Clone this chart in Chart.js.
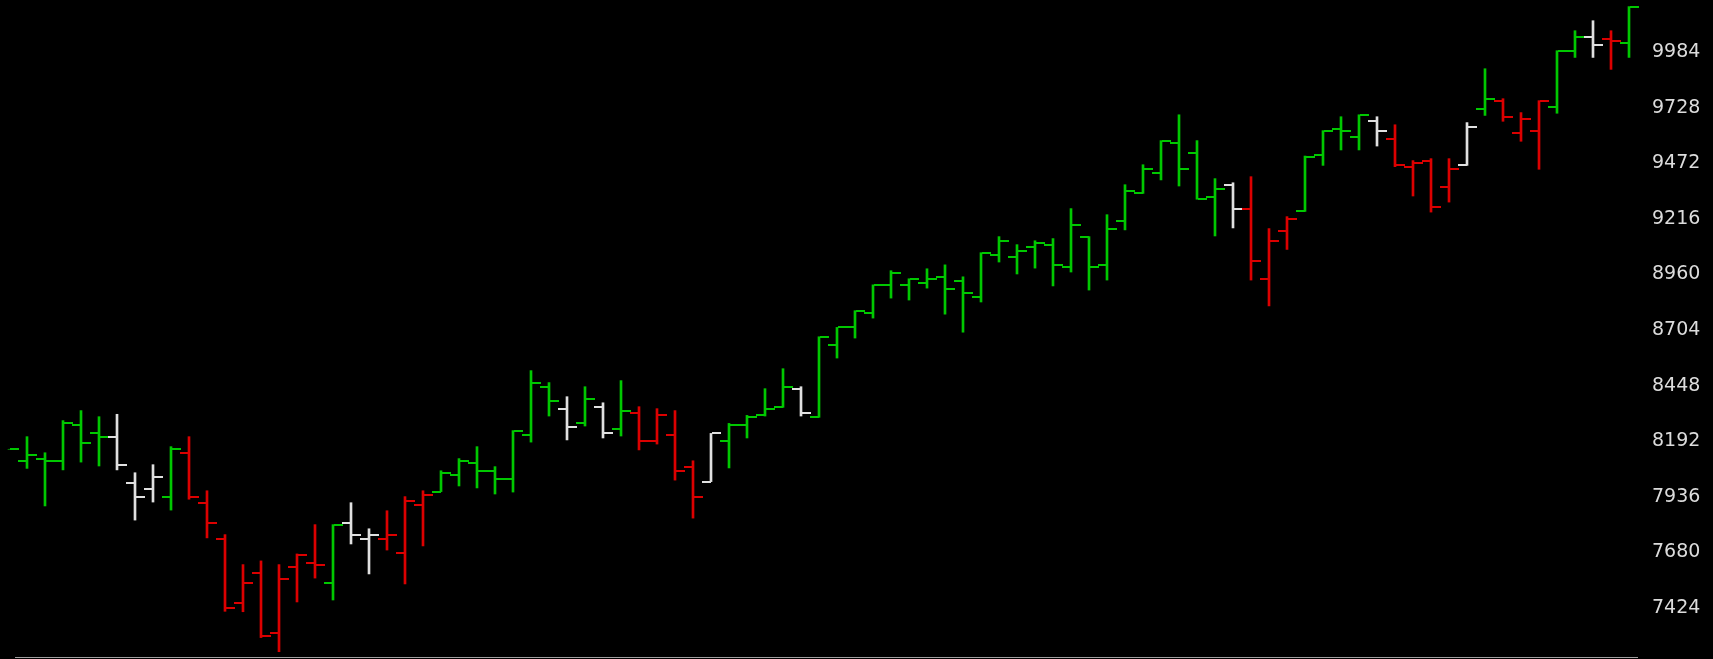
<!DOCTYPE html>
<html>
<head>
<meta charset="utf-8">
<script src="https://cdn.jsdelivr.net/npm/chart.js@4.4.1/dist/chart.umd.min.js"></script>
<style>
  html, body { margin: 0; padding: 0; background: #000; overflow: hidden; }
  canvas { display: block; }
</style>
</head>
<body>
<canvas id="myChart" width="1713" height="659"></canvas>
<script>
const ctx = document.getElementById('myChart').getContext('2d');

/*** Data (daily bars, oldest first) ***/
const opens = [null, 8101, 8109, 8101, 8267, 8230, 8210, 7998, 7972, 7934,
    8138, 7906, 7740, 7446, 7585, 7308, 7611, 7630, 7539, 7814,
    7740, 7740, 7676, 7897, 7960, 8035, 8090, 8053, 8017, 8219,
    8440, 8339, 8274, 8348, 8247, 8320, 8191, 8219, 8072, 8006,
    8191, 8265, 8311, 8348, 8431, 8302, 8633, 8716, 8781, 8912,
    8912, 8919, 8946, 8928, 8854, 9048, 9039, 9088, 9094, 8993,
    9134, 9002, 9204, 9333, 9428, 9567, 9520, 9315, 9370, 9260,
    8937, 9161, 9250, 9511, 9631, 9594, 9668, 9585, 9456, 9484,
    9361, 9462, 9723, 9760, 9613, 9619, 9732, 9990, 10055, 10045,
    10027];
const highs = [8155, 8213, 8139, 8287, 8333, 8305, 8316, 8047, 8084, 8167,
    8213, 7964, 7762, 7624, 7641, 7624, 7673, 7808, 7808, 7909,
    7789, 7872, 7937, 7964, 8056, 8112, 8167, 8075, 8241, 8517,
    8462, 8397, 8443, 8369, 8471, 8351, 8342, 8333, 8102, 8228,
    8274, 8311, 8434, 8526, 8443, 8673, 8716, 8793, 8912, 8977,
    8940, 8986, 9004, 8949, 9060, 9134, 9097, 9115, 9125, 9263,
    9134, 9235, 9373, 9465, 9576, 9695, 9576, 9401, 9382, 9410,
    9171, 9226, 9505, 9622, 9686, 9695, 9686, 9649, 9484, 9493,
    9493, 9659, 9907, 9769, 9705, 9760, 9990, 10082, 10128, 10082,
    10193];
const lows = [8155, 8067, 7894, 8060, 8096, 8078, 8060, 7829, 7912, 7875,
    7925, 7747, 7409, 7407, 7288, 7223, 7452, 7562, 7461, 7719,
    7581, 7691, 7535, 7710, 7960, 7986, 7977, 7949, 7958, 8188,
    8308, 8198, 8262, 8207, 8216, 8152, 8179, 8013, 7838, 8006,
    8069, 8207, 8308, 8348, 8308, 8302, 8575, 8667, 8759, 8851,
    8842, 8897, 8777, 8694, 8833, 9017, 8962, 8989, 8907, 8971,
    8888, 8934, 9165, 9333, 9395, 9367, 9306, 9137, 9174, 8934,
    8815, 9075, 9250, 9462, 9533, 9533, 9551, 9456, 9321, 9247,
    9293, 9462, 9692, 9665, 9573, 9444, 9702, 9959, 9959, 9904,
    9959];
const closes = [8155, 8127, 8101, 8276, 8184, 8210, 8081, 7934, 8026, 8155,
    7934, 7814, 7426, 7539, 7297, 7556, 7668, 7621, 7805, 7760,
    7760, 7760, 7917, 7943, 8044, 8101, 8053, 8017, 8238, 8460,
    8376, 8256, 8385, 8228, 8330, 8191, 8311, 8053, 7934, 8228,
    8265, 8302, 8339, 8440, 8320, 8670, 8716, 8790, 8912, 8965,
    8937, 8937, 8891, 8873, 9057, 9112, 9066, 9106, 9005, 9186,
    8993, 9168, 9346, 9444, 9576, 9444, 9306, 9352, 9260, 9020,
    9112, 9217, 9502, 9622, 9622, 9695, 9619, 9465, 9474, 9269,
    9444, 9640, 9769, 9683, 9677, 9760, 9990, 10055, 10018, 10036,
    10193];
// bar colour code: G = up, R = down, W = neutral
const barColors = ['G','G','G','G','G','G','W','W','W','G',
    'R','R','R','R','R','R','R','R','G','W',
    'W','R','R','R','G','G','G','G','G','G',
    'G','W','G','W','G','R','R','R','R','W',
    'G','G','G','G','W','G','G','G','G','G',
    'G','G','G','G','G','G','G','G','G','G',
    'G','G','G','G','G','G','G','G','W','R',
    'R','R','G','G','G','G','W','R','R','R',
    'R','W','G','R','R','R','G','G','W','R',
    'G'];
const yTicks = [7424, 7680, 7936, 8192, 8448, 8704, 8960, 9216, 9472, 9728, 9984];

const palette = { G: '#00c800', R: '#dc0000', W: '#e0e0e0' };
/*************/

// open / close ticks on each bar
const ohlcTicks = {
    id: 'ohlcTicks',
    afterDatasetsDraw(chart) {
        const { ctx, scales: { x, y } } = chart;
        ctx.save();
        closes.forEach(function(c, i) {
            const px = Math.round(x.getPixelForValue(i));
            ctx.fillStyle = palette[barColors[i]];
            if (opens[i] !== null) {
                ctx.fillRect(px - 9, Math.round(y.getPixelForValue(opens[i])) - 1, 9, 2);
            }
            ctx.fillRect(px + 1, Math.round(y.getPixelForValue(c)) - 1, 9, 2);
        });
        ctx.restore();
    }
};

// grey base line along the bottom
const baseLine = {
    id: 'baseLine',
    beforeDraw(chart) {
        const { ctx, chartArea: { left, right, bottom } } = chart;
        ctx.save();
        ctx.fillStyle = '#000';
        ctx.fillRect(0, 0, chart.width, chart.height);
        ctx.fillStyle = '#a0a0a0';
        ctx.fillRect(left + 15, bottom - 2, right - left - 17, 1);
        ctx.restore();
    }
};

const data = {
    datasets: [{
        label: 'High-Low',
        data: highs.map(function(h, i) { return { x: i, y: [lows[i], h] }; }),
        backgroundColor: barColors.map(function(k) { return palette[k]; }),
        borderWidth: 0,
        borderSkipped: false,
        barThickness: 2,
        grouped: false
    }]
};

const config = {
    type: 'bar',
    data,
    options: {
        responsive: false,
        animation: false,
        devicePixelRatio: 1,
        layout: { padding: 0 },
        plugins: {
            legend: { display: false },
            tooltip: { enabled: false },
            title: { display: false }
        },
        scales: {
            x: {
                type: 'linear',
                display: false,
                offset: false,
                min: -0.5,
                max: -0.5 + 1640 / 18
            },
            y: {
                type: 'linear',
                position: 'right',
                min: 7189.4,
                max: 10223.4,
                afterBuildTicks: function(scale) {
                    scale.ticks = yTicks.map(function(v) { return { value: v }; });
                },
                afterFit: function(scale) {
                    scale.width = 73;
                    scale.paddingTop = 0;
                    scale.paddingBottom = 0;
                },
                grid: { display: false, drawTicks: false },
                border: { display: false },
                ticks: {
                    color: '#dcdcdc',
                    padding: 12,
                    font: { family: 'DejaVu Sans', size: 19 },
                    callback: function(v) { return String(v); }
                }
            }
        }
    },
    plugins: [baseLine, ohlcTicks]
};

const myChart = new Chart(ctx, config);
</script>
</body>
</html>
